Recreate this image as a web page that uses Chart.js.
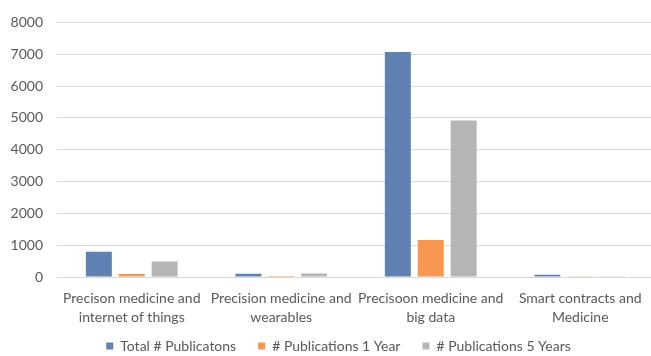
<!DOCTYPE html>
<html>
<head>
<meta charset="utf-8">
<script src="https://cdn.jsdelivr.net/npm/chart.js@4/dist/chart.umd.min.js"></script>
<style>
html,body{margin:0;padding:0;background:#fff;overflow:hidden;}
#wrap{width:651px;height:356px;position:relative;overflow:hidden;}
#c{position:absolute;left:0;top:0;}
</style>
</head>
<body>
<div id="wrap"><canvas id="c" width="677" height="356"></canvas></div>
<script>
const categories = [
  ["Precison medicine and", "internet of things"],
  ["Precision medicine and", "wearables"],
  ["Precisoon medicine and", "big data"],
  ["Smart contracts and", "Medicine"]
];
const seriesNames = ["Total # Publicatons", "# Publications 1 Year", "# Publications 5 Years"];
const totalPubs = [790, 105, 7070, 70];
const pubs1Year = [95, 35, 1160, 5];
const pubs5Years = [485, 110, 4915, 5];
const yTicks = [0, 1000, 2000, 3000, 4000, 5000, 6000, 7000, 8000];
const colors = ["#5f82b2", "#f79750", "#b5b5b5"];

const FONT = "Lato, 'Open Sans', sans-serif";
const TXT = "#595959";
const LEGEND_H = 39;

const legendPlacementPlugin = {
  id: 'legendPlacement',
  beforeLayout(chart) {
    const lg = chart.legend;
    if (lg && !lg._fixedH) {
      const orig = lg.fit.bind(lg);
      lg.fit = function () {
        orig();
        this.height = LEGEND_H;
      };
      lg._fixedH = true;
    }
  },
  afterLayout(chart) {
    const lg = chart.legend;
    if (lg) {
      lg.left += 11; lg.right += 11;
    }
  }
};

new Chart(document.getElementById('c'), {
  type: 'bar',
  data: {
    labels: categories,
    datasets: [
      {label: seriesNames[0], data: totalPubs, backgroundColor: colors[0]},
      {label: seriesNames[1], data: pubs1Year, backgroundColor: colors[1]},
      {label: seriesNames[2], data: pubs5Years, backgroundColor: colors[2]}
    ]
  },
  plugins: [legendPlacementPlugin],
  options: {
    responsive: false,
    animation: false,
    devicePixelRatio: 1,
    layout: {padding: {left: 0, right: 22, top: 13, bottom: 0}},
    datasets: {bar: {barPercentage: 0.79, categoryPercentage: 0.66}},
    scales: {
      x: {
        grid: {display: false, drawTicks: false},
        border: {display: true, color: '#d9d9d9'},
        afterFit: (s) => { s.height = 40; s._computeLabelArea = () => undefined; },
        ticks: {color: TXT, font: {family: FONT, size: 14, lineHeight: 1.36}, maxRotation: 0, autoSkip: false, padding: 12}
      },
      y: {
        min: 0, max: 8000,
        afterBuildTicks: (s) => { s.ticks = yTicks.map(v => ({value: v})); },
        afterFit: (s) => { s.width = 57; },
        grid: {color: '#d9d9d9', drawTicks: false},
        border: {display: false},
        ticks: {color: TXT, font: {family: FONT, size: 14}, padding: 14, callback: (v) => String(v)}
      }
    },
    plugins: {
      legend: {
        position: 'bottom',
        labels: {color: TXT, font: {family: FONT, size: 14}, usePointStyle: true, pointStyle: 'rect', boxWidth: 7, boxHeight: 7, padding: 22}
      },
      tooltip: {enabled: false}
    }
  }
});
</script>
</body>
</html>
